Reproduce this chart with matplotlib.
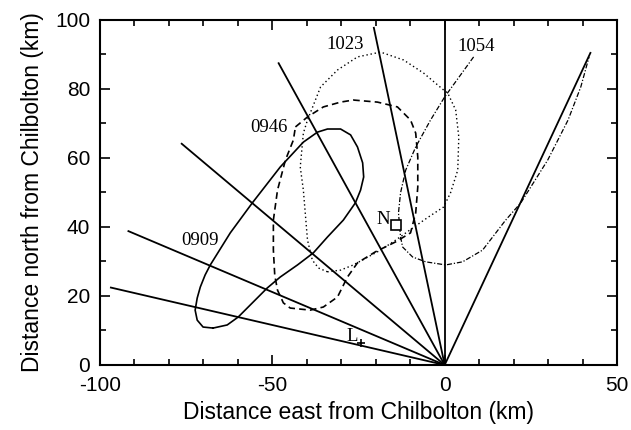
import matplotlib
matplotlib.use("Agg")
import matplotlib.pyplot as plt
import numpy as np
from matplotlib.ticker import MultipleLocator

plt.rcParams['font.family'] = ['Liberation Sans', 'DejaVu Sans']
plt.rcParams['axes.unicode_minus'] = False

# radial scan lines: end points (the other end is Chilbolton at 0, 0)
ray_x = [-97.1, -92.0, -76.5, -48.3, -20.6, 0.0, 42.4]
ray_y = [22.5, 38.9, 64.3, 87.7, 98.0, 100.0, 90.7]

# contour 0909 (solid, closed)
c0909_x = [-67.2, -70.1, -71.8, -72.4, -71.8, -70.9, -69.5, -68.0, -62.2, -55.8,
           -47.7, -41.0, -36.9, -34.0, -30.2, -27.3, -25.3, -23.8, -23.5, -24.4,
           -25.9, -29.4, -34.0, -38.1, -42.7, -47.7, -51.5, -56.4, -59.9, -63.1,
           -67.2]
c0909_y = [10.7, 11.0, 13.0, 15.9, 19.4, 22.6, 26.1, 29.0, 38.3, 47.0,
           57.4, 64.6, 67.5, 68.4, 68.4, 66.7, 63.2, 58.6, 54.5, 50.7,
           47.0, 42.0, 37.1, 32.5, 29.0, 25.5, 22.3, 17.4, 13.9, 11.6,
           10.7]

# contour 0946 (dashed, closed)
c0946_x = [-43.3, -39.8, -35.2, -30.2, -26.5, -19.5, -13.7, -9.9, -8.4, -7.8,
           -7.8, -8.4, -9.9, -14.2, -20.1, -25.3, -28.2, -31.1, -35.2, -39.0,
           -44.8, -46.8, -48.5, -49.3, -49.7, -49.7, -48.5, -46.2, -43.9, -43.3]
c0946_y = [69.0, 71.9, 74.8, 76.2, 76.8, 76.2, 74.8, 71.0, 67.2, 60.3,
           51.6, 44.1, 38.3, 35.7, 32.8, 29.6, 25.5, 19.7, 16.8, 15.9,
           16.5, 18.0, 21.7, 26.0, 33.3, 42.0, 50.7, 59.4, 65.2, 69.0]

# contour 1023 (dotted, closed)
c1023_x = [-34.0, -36.6, -38.4, -39.8, -41.0, -41.9, -41.0, -39.8, -36.0, -31.1,
           -25.3, -18.6, -11.9, -6.1, -0.3, 0.9, 3.2, 4.1, 3.8, 1.7,
           -0.3, -4.7, -9.3, -14.2, -18.6, -26.5, -30.2, -34.0]
c1023_y = [27.0, 28.1, 30.4, 36.2, 50.7, 57.4, 67.2, 71.0, 80.6, 85.5,
           89.3, 90.7, 88.4, 84.6, 79.7, 78.8, 73.9, 66.1, 56.5, 49.9,
           45.8, 42.9, 39.7, 36.2, 33.3, 29.0, 27.5, 27.0]

# contour 1054 (dash-dot, open)
c1054_x = [8.4, 0.0, -4.1, -8.4, -11.3, -12.8, -13.4, -12.8, -12.2, -9.3,
           -5.5, 0.3, 5.2, 11.0, 17.7, 22.1, 29.9, 35.8, 39.5, 41.9]
c1054_y = [89.3, 77.7, 71.0, 63.2, 56.5, 49.9, 44.1, 37.1, 34.2, 31.3,
           29.9, 29.0, 29.9, 33.3, 42.0, 47.0, 59.4, 71.0, 80.6, 89.3]

times = ['0909', '0946', '1023', '1054']
time_x = [-70.9, -50.9, -28.8, 9.0]
time_y = [36.0, 68.7, 92.8, 92.2]

fig = plt.figure(figsize=(6.31, 4.30), dpi=100)
ax = fig.add_axes([0.1585, 0.1512, 0.8193, 0.8023])

for ex, ey in zip(ray_x, ray_y):
    ax.plot([0, ex], [0, ey], color='black', lw=1.3, solid_capstyle='butt')

ax.plot(c0909_x, c0909_y, color='black', lw=1.2, ls='-')
ax.plot(c0946_x, c0946_y, color='black', lw=1.2, ls=(0, (4, 2.5)))
ax.plot(c1023_x, c1023_y, color='black', lw=1.0, ls=(0, (1, 2)))
ax.plot(c1054_x, c1054_y, color='black', lw=0.9, ls=(0, (4, 1.5, 1, 1.5)))

for t, tx, ty in zip(times, time_x, time_y):
    ax.text(tx, ty, t, family=['Liberation Serif'], fontsize=13.5,
            ha='center', va='center')

# sites
ax.plot([-14.2], [40.6], marker='s', ms=6.5, mfc='white', mec='black', mew=1.2)
ax.text(-17.7, 42.3, 'N', family=['Liberation Serif'], fontsize=13.5,
        ha='center', va='center')
ax.plot([-24.4], [6.4], marker='+', ms=6, color='black', mew=1.2)
ax.text(-26.7, 8.4, 'L', family=['Liberation Serif'], fontsize=13.5,
        ha='center', va='center')

ax.set_xlim(-100, 50)
ax.set_ylim(0, 100)
ax.xaxis.set_major_locator(MultipleLocator(50))
ax.xaxis.set_minor_locator(MultipleLocator(10))
ax.yaxis.set_major_locator(MultipleLocator(20))
ax.yaxis.set_minor_locator(MultipleLocator(10))
ax.tick_params(which='both', direction='in', top=True, right=True, width=1.2,
               labelsize=15)
ax.tick_params(which='major', length=7)
ax.tick_params(which='minor', length=4)
ax.tick_params(axis='x', pad=8)
ax.tick_params(axis='y', pad=7)
for s in ax.spines.values():
    s.set_linewidth(1.5)

ax.set_xlabel('Distance east from Chilbolton (km)', fontsize=16.5, labelpad=4)
ax.set_ylabel('Distance north from Chilbolton (km)', fontsize=16.5, labelpad=8)

fig.savefig('out.png', dpi=100)
